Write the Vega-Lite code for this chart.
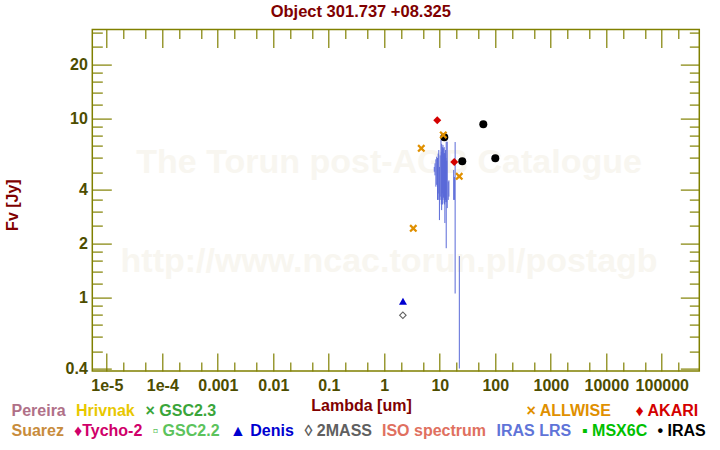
{
  "$schema": "https://vega.github.io/schema/vega-lite/v6.json",
  "width": 607,
  "height": 341.4,
  "autosize": {"type": "none"},
  "padding": {"left": 92.3, "top": 29.6, "right": 20.7, "bottom": 79},
  "background": "white",
  "title": {"text": "Object 301.737 +08.325", "color": "#800000", "font": "Liberation Sans", "fontSize": 16.5, "fontWeight": "bold", "anchor": "middle", "dx": -35, "offset": 4},
  "config": {
    "view": {"stroke": "#808000", "strokeWidth": 1.5},
    "axis": {"domain": false, "grid": false, "tickColor": "#808000", "tickWidth": 1.2, "labelFont": "Liberation Sans", "labelFontSize": 16, "labelFontWeight": "bold", "labelColor": "#4d4d00", "labelOverlap": false, "labelFlush": false, "titleFont": "Liberation Sans", "titleFontSize": 16, "titleFontWeight": "bold", "titleColor": "#800000"},
    "legend": {"labelFont": "Liberation Sans", "labelFontSize": 16, "labelFontWeight": "bold", "labelLimit": 400, "symbolSize": 1, "symbolOpacity": 0, "symbolStrokeWidth": 0, "labelOffset": -15.5, "padding": 0, "orient": "none", "direction": "horizontal"}
  },
  "datasets": {
    "pts": [
      {"cat": "IRAS", "lam": 12.05, "flux": 7.83},
      {"cat": "IRAS", "lam": 25.4, "flux": 5.75},
      {"cat": "IRAS", "lam": 60.8, "flux": 9.26},
      {"cat": "IRAS", "lam": 100, "flux": 5.98},
      {"cat": "AKARI", "lam": 9.0, "flux": 9.75},
      {"cat": "AKARI", "lam": 18.2, "flux": 5.70},
      {"cat": "Denis", "lam": 2.17, "flux": 0.95},
      {"cat": "2MASS", "lam": 2.16, "flux": 0.793},
      {"cat": "ALLWISE", "lam": 3.33, "flux": 2.43},
      {"cat": "ALLWISE", "lam": 4.64, "flux": 6.80},
      {"cat": "ALLWISE", "lam": 11.56, "flux": 8.07},
      {"cat": "ALLWISE", "lam": 22.4, "flux": 4.74}
    ],
    "lrs": [
      {"lam": 7.96, "lo": 5.03, "hi": 5.35},
      {"lam": 8.2, "lo": 4.8, "hi": 5.6},
      {"lam": 8.5, "lo": 4.15, "hi": 5.9},
      {"lam": 8.8, "lo": 4.25, "hi": 6.1},
      {"lam": 9.1, "lo": 3.5, "hi": 6.0},
      {"lam": 9.35, "lo": 3.8, "hi": 6.35},
      {"lam": 9.6, "lo": 3.5, "hi": 6.65},
      {"lam": 9.85, "lo": 2.7, "hi": 5.35},
      {"lam": 10.15, "lo": 3.65, "hi": 6.2},
      {"lam": 10.5, "lo": 3.5, "hi": 7.6},
      {"lam": 10.65, "lo": 3.3, "hi": 6.5},
      {"lam": 10.8, "lo": 3.07, "hi": 7.2},
      {"lam": 11.1, "lo": 3.8, "hi": 6.65},
      {"lam": 11.25, "lo": 3.3, "hi": 6.9},
      {"lam": 11.4, "lo": 3.5, "hi": 7.1},
      {"lam": 11.6, "lo": 3.6, "hi": 6.8},
      {"lam": 11.75, "lo": 3.65, "hi": 6.35},
      {"lam": 12.0, "lo": 3.35, "hi": 6.9},
      {"lam": 12.2, "lo": 3.3, "hi": 6.4},
      {"lam": 12.35, "lo": 2.6, "hi": 6.1},
      {"lam": 12.5, "lo": 3.4, "hi": 6.3},
      {"lam": 12.7, "lo": 3.5, "hi": 6.65},
      {"lam": 12.9, "lo": 3.5, "hi": 6.0},
      {"lam": 13.05, "lo": 1.88, "hi": 7.4},
      {"lam": 13.3, "lo": 3.4, "hi": 5.8},
      {"lam": 13.6, "lo": 3.15, "hi": 7.4},
      {"lam": 14.2, "lo": 3.5, "hi": 4.43},
      {"lam": 14.6, "lo": 3.65, "hi": 4.5},
      {"lam": 17.8, "lo": 3.5, "hi": 5.14},
      {"lam": 18.3, "lo": 3.5, "hi": 4.7},
      {"lam": 18.9, "lo": 1.05, "hi": 7.37},
      {"lam": 22.5, "lo": 0.4, "hi": 1.70}
    ]
  },
  "layer": [
    {
      "data": {"values": [{}]},
      "mark": {"type": "text", "text": "The Torun post-AGB Catalogue", "font": "Liberation Sans", "fontSize": 34, "fontWeight": "bold", "color": "#f8f6f0", "align": "center", "baseline": "middle"},
      "encoding": {
        "x": {"datum": 1.22, "type": "quantitative", "axis": null},
        "y": {"datum": 5.63, "type": "quantitative", "axis": null}
      }
    },
    {
      "data": {"values": [{}]},
      "mark": {"type": "text", "text": "http://www.ncac.torun.pl/postagb", "font": "Liberation Sans", "fontSize": 34, "fontWeight": "bold", "color": "#f8f6f0", "align": "center", "baseline": "middle"},
      "encoding": {
        "x": {"datum": 1.22, "type": "quantitative", "axis": null},
        "y": {"datum": 1.575, "type": "quantitative", "axis": null}
      }
    },
    {
      "data": {"name": "lrs"},
      "mark": {"type": "rule", "color": "#5a6ad8", "strokeWidth": 1, "clip": true},
      "encoding": {
        "x": {"field": "lam", "type": "quantitative",
          "scale": {"type": "log", "domain": [5.48e-6, 4.74e5], "nice": false},
          "axis": {"orient": "bottom", "title": "Lambda [um]", "titleX": 268.7, "titleY": 34, "titleBaseline": "middle",
            "values": [1e-5, 2e-5, 5e-5, 1e-4, 2e-4, 5e-4, 0.001, 0.002, 0.005, 0.01, 0.02, 0.05, 0.1, 0.2, 0.5, 1, 2, 5, 10, 20, 50, 100, 200, 500, 1000, 2000, 5000, 10000, 20000, 50000, 100000, 200000],
            "labelExpr": "abs(log(datum.value)/LN10 - round(log(datum.value)/LN10)) > 0.01 ? '' : (datum.value < 0.0005 ? '1e' + round(log(datum.value)/LN10) : format(datum.value, '~g'))",
            "tickSize": {"condition": {"test": "abs(log(datum.value)/LN10 - round(log(datum.value)/LN10)) < 0.01", "value": -18}, "value": -9},
            "labelPadding": 24}},
        "y": {"field": "lo", "type": "quantitative",
          "scale": {"type": "log", "domain": [0.3875, 31.3], "nice": false},
          "axis": {"orient": "left", "title": "Fv [Jy]", "titleX": -80.3, "titleY": 175, "titleBaseline": "middle", "titleAngle": -90,
            "values": [0.4, 0.5, 0.6, 0.7, 0.8, 0.9, 1, 1.2, 1.4, 1.6, 1.8, 2, 2.5, 3, 3.5, 4, 5, 6, 7, 8, 9, 10, 12, 14, 16, 18, 20, 25, 30],
            "labelExpr": "indexof([0.4, 1, 2, 4, 10, 20], datum.value) >= 0 ? format(datum.value, '~g') : ''",
            "tickSize": {"condition": {"test": "indexof([0.4, 1, 2, 4, 10, 20], datum.value) >= 0", "value": -19}, "value": -10},
            "labelPadding": 24}},
        "y2": {"field": "hi"}
      }
    },
    {
      "data": {"name": "pts"},
      "mark": {"type": "point", "filled": true, "opacity": 1, "size": 64, "clip": true},
      "encoding": {
        "x": {"field": "lam", "type": "quantitative", "axis": null},
        "y": {"field": "flux", "type": "quantitative", "axis": null},
        "color": {"field": "cat", "type": "nominal", "legend": null,
          "scale": {"domain": ["IRAS", "AKARI", "Denis", "2MASS", "ALLWISE"], "range": ["#000000", "#d40000", "#0000d0", "#606060", "#e09000"]}},
        "shape": {"field": "cat", "type": "nominal", "legend": null,
          "scale": {"domain": ["IRAS", "AKARI", "Denis", "2MASS", "ALLWISE"], "range": ["circle", "diamond", "triangle-up", "M0,-1L1,0L0,1L-1,0ZM0,-0.62L-0.62,0L0,0.62L0.62,0Z", "M0.6,-1L1,-0.6L0.4,0L1,0.6L0.6,1L0,0.4L-0.6,1L-1,0.6L-0.4,0L-1,-0.6L-0.6,-1L0,-0.4Z"]}}
      }
    },
    {
      "data": {"name": "pts"},
      "mark": {"type": "point", "opacity": 0},
      "encoding": {
        "x": {"field": "lam", "type": "quantitative",
          "axis": {"orient": "top", "title": null, "labels": false,
            "values": [1e-5, 2e-5, 5e-5, 1e-4, 2e-4, 5e-4, 0.001, 0.002, 0.005, 0.01, 0.02, 0.05, 0.1, 0.2, 0.5, 1, 2, 5, 10, 20, 50, 100, 200, 500, 1000, 2000, 5000, 10000, 20000, 50000, 100000, 200000],
            "tickSize": {"condition": {"test": "abs(log(datum.value)/LN10 - round(log(datum.value)/LN10)) < 0.01", "value": -18}, "value": -9}}},
        "y": {"field": "flux", "type": "quantitative",
          "axis": {"orient": "right", "title": null, "labels": false,
            "values": [0.4, 0.5, 0.6, 0.7, 0.8, 0.9, 1, 1.2, 1.4, 1.6, 1.8, 2, 2.5, 3, 3.5, 4, 5, 6, 7, 8, 9, 10, 12, 14, 16, 18, 20, 25, 30],
            "tickSize": {"condition": {"test": "indexof([0.4, 1, 2, 4, 10, 20], datum.value) >= 0", "value": -19}, "value": -10}}}
      }
    },
    {
      "data": {"name": "pts"},
      "transform": [{"filter": "false"}],
      "mark": "point",
      "encoding": {
        "color": {"field": "cat", "type": "nominal",
          "scale": {"domain": ["Pereira", "Hrivnak", "GSC2.3"], "range": ["#b07088", "#e8c800", "#3aa53a"]},
          "legend": {"title": null, "legendX": -81.3, "legendY": 373, "columns": 3, "columnPadding": 9.5,
            "symbolSize": 1, "symbolOpacity": 0, "labelOffset": -15.5,
            "labelExpr": "datum.value == 'GSC2.3' ? '× GSC2.3' : datum.value",
            "labelColor": {"expr": "({'Pereira': '#b07088', 'Hrivnak': '#e8c800', 'GSC2.3': '#3aa53a'})[datum.value]"}}}
      }
    },
    {
      "data": {"name": "pts"},
      "transform": [{"filter": "false"}],
      "mark": "point",
      "encoding": {
        "color": {"field": "cat", "type": "nominal",
          "scale": {"domain": ["ALLWISE", "AKARI"], "range": ["#e09000", "#d40000"]},
          "legend": {"title": null, "legendX": 433.7, "legendY": 373, "columns": 2, "columnPadding": 23,
            "symbolSize": 1, "symbolOpacity": 0, "labelOffset": -15.5,
            "labelExpr": "datum.value == 'ALLWISE' ? '× ALLWISE' : '♦ AKARI'",
            "labelColor": {"expr": "({'ALLWISE': '#e09000', 'AKARI': '#d40000'})[datum.value]"}}}
      }
    },
    {
      "data": {"name": "pts"},
      "transform": [{"filter": "false"}],
      "mark": "point",
      "encoding": {
        "color": {"field": "cat", "type": "nominal",
          "scale": {"domain": ["Suarez", "Tycho-2", "GSC2.2", "Denis", "2MASS", "ISO spectrum", "IRAS LRS", "MSX6C", "IRAS"], "range": ["#c88c3c", "#d0006a", "#5cc35c", "#0000d0", "#606060", "#e07060", "#6074d8", "#00c000", "#000000"]},
          "legend": {"title": null, "legendX": -81.3, "legendY": 393, "columns": 9, "columnPadding": 9.5,
            "symbolSize": 1, "symbolOpacity": 0, "labelOffset": -15.5,
            "labelExpr": "({'Suarez': 'Suarez', 'Tycho-2': '♦Tycho-2', 'GSC2.2': '▫ GSC2.2', 'Denis': '▲ Denis', '2MASS': '◊ 2MASS', 'ISO spectrum': 'ISO spectrum', 'IRAS LRS': 'IRAS LRS', 'MSX6C': '▪ MSX6C', 'IRAS': '• IRAS'})[datum.value]",
            "labelColor": {"expr": "({'Suarez': '#c88c3c', 'Tycho-2': '#d0006a', 'GSC2.2': '#5cc35c', 'Denis': '#0000d0', '2MASS': '#606060', 'ISO spectrum': '#e07060', 'IRAS LRS': '#6074d8', 'MSX6C': '#00c000', 'IRAS': '#000000'})[datum.value]"}}}
      }
    }
  ],
  "resolve": {
    "scale": {"color": "independent", "shape": "independent"},
    "axis": {"x": "independent", "y": "independent"}
  }
}
